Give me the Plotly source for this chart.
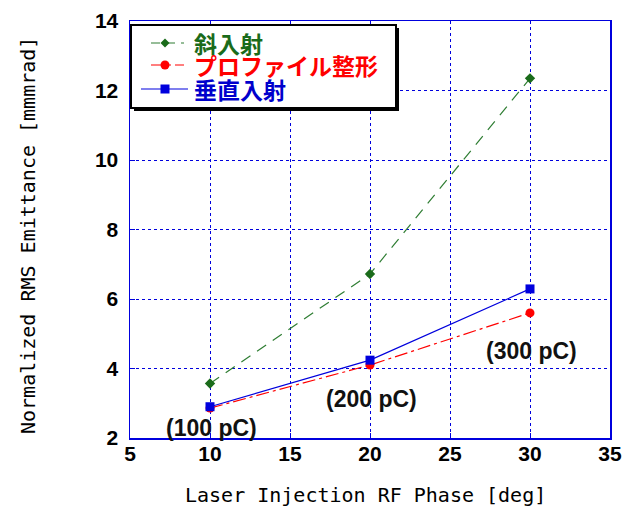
import plotly.graph_objects as go

phase = [10, 20, 30]
oblique = [3.57, 6.72, 12.35]      # 斜入射
profile = [2.86, 4.10, 5.60]       # プロファイル整形
normal = [2.90, 4.24, 6.29]        # 垂直入射
series_names = ["斜入射", "プロファイル整形", "垂直入射"]
charge_labels = ["(100 pC)", "(200 pC)", "(300 pC)"]
label_x = [10.12, 20.1, 30.1]
label_y = [2.3, 3.12, 4.5]

GREEN_TXT = "#1a6b1a"
GREEN_LINE = "#2e7d32"
RED = "#ff0000"
BLUE = "#0000dd"

L, R, T, B, W, H = 130, 13, 21, 71, 623, 509
PW, PH = W - L - R, H - T - B


def px(x):
    return (x - L) / PW


def py(y):
    return (H - B - y) / PH


fig = go.Figure()
fig.add_trace(go.Scatter(x=phase, y=oblique, name=series_names[0], mode="lines+markers",
                         line=dict(color=GREEN_LINE, width=1.2, dash="11px,8px"),
                         marker=dict(symbol="diamond", size=8, color=GREEN_TXT)))
fig.add_trace(go.Scatter(x=phase, y=profile, name=series_names[1], mode="lines+markers",
                         line=dict(color=RED, width=1.2, dash="13px,4px,3px,4px"),
                         marker=dict(symbol="circle", size=9, color=RED)))
fig.add_trace(go.Scatter(x=phase, y=normal, name=series_names[2], mode="lines+markers",
                         line=dict(color=BLUE, width=1.2),
                         marker=dict(symbol="square", size=9, color=BLUE)))

for t, x, y in zip(charge_labels, label_x, label_y):
    fig.add_annotation(x=x, y=y, text=t, showarrow=False, xref="x", yref="y",
                       font=dict(family="Liberation Sans", size=23, color="#111111", weight="bold"))

# ---- manual legend (box with shadow) ----
shapes = []
shapes.append(dict(type="rect", xref="paper", yref="paper", x0=px(134), x1=px(399), y0=py(111), y1=py(28),
                   fillcolor="black", line=dict(width=0), layer="above"))
shapes.append(dict(type="rect", xref="paper", yref="paper", x0=px(131), x1=px(396), y0=py(108), y1=py(25),
                   fillcolor="white", line=dict(color="black", width=2), layer="above"))
rows = [43, 65, 89]
# line samples
shapes.append(dict(type="line", xref="paper", yref="paper", x0=px(151), x1=px(184), y0=py(rows[0]), y1=py(rows[0]),
                   line=dict(color=GREEN_LINE, width=1.2, dash="9px,6px"), layer="above"))
shapes.append(dict(type="line", xref="paper", yref="paper", x0=px(151), x1=px(184), y0=py(rows[1]), y1=py(rows[1]),
                   line=dict(color=RED, width=1.2, dash="13px,4px,3px,4px"), layer="above"))
shapes.append(dict(type="line", xref="paper", yref="paper", x0=px(141), x1=px(188), y0=py(rows[2]), y1=py(rows[2]),
                   line=dict(color=BLUE, width=1.2), layer="above"))
# marker samples
cx = 165
d = 4.5
shapes.append(dict(type="path", xref="paper", yref="paper",
                   path=f"M {px(cx)} {py(rows[0]-d)} L {px(cx+d)} {py(rows[0])} L {px(cx)} {py(rows[0]+d)} L {px(cx-d)} {py(rows[0])} Z",
                   fillcolor=GREEN_TXT, line=dict(width=0), layer="above"))
shapes.append(dict(type="circle", xref="paper", yref="paper", x0=px(cx-4.5), x1=px(cx+4.5),
                   y0=py(rows[1]+4.5), y1=py(rows[1]-4.5), fillcolor=RED, line=dict(width=0), layer="above"))
shapes.append(dict(type="rect", xref="paper", yref="paper", x0=px(cx-4.5), x1=px(cx+4.5),
                   y0=py(rows[2]+4.5), y1=py(rows[2]-4.5), fillcolor=BLUE, line=dict(width=0), layer="above"))
for name, row, col in zip(series_names, rows, [GREEN_TXT, RED, "#0000cc"]):
    fig.add_annotation(x=px(192), y=py(row), xref="paper", yref="paper", text=name, showarrow=False,
                       xanchor="left", yanchor="middle",
                       font=dict(family="Noto Sans CJK JP", size=23, color=col, weight="bold"))

# axis titles
fig.add_annotation(x=px(365), y=py(495), xref="paper", yref="paper", text="Laser Injection RF Phase [deg]",
                   showarrow=False, xanchor="center", yanchor="middle",
                   font=dict(family="DejaVu Sans Mono", size=20, color="black"))
fig.add_annotation(x=px(28), y=py(236), xref="paper", yref="paper", text="Normalized RMS Emittance [mmmrad]",
                   showarrow=False, xanchor="center", yanchor="middle", textangle=-90,
                   font=dict(family="DejaVu Sans Mono", size=20, color="black"))

axis_common = dict(showline=True, linecolor=BLUE, linewidth=1.5, mirror=True,
                   showgrid=True, gridcolor=BLUE, griddash="dot", gridwidth=1,
                   ticks="inside", ticklen=5, tickcolor=BLUE, zeroline=False, automargin=False,
                   tickfont=dict(family="Liberation Sans", size=21, color="black", weight="bold"))

fig.update_layout(
    width=W, height=H,
    margin=dict(l=L, r=R, t=T, b=B),
    plot_bgcolor="white", paper_bgcolor="white",
    xaxis=dict(range=[5, 35], dtick=5, ticklabelstandoff=-4, **axis_common),
    yaxis=dict(range=[2, 14], dtick=2, ticklabelstandoff=6, **axis_common),
    shapes=shapes,
    showlegend=False,
)
fig.write_html("out.html", config={"displayModeBar": False, "staticPlot": True},
               post_script="document.body.style.margin='0';document.body.style.overflow='hidden';")
